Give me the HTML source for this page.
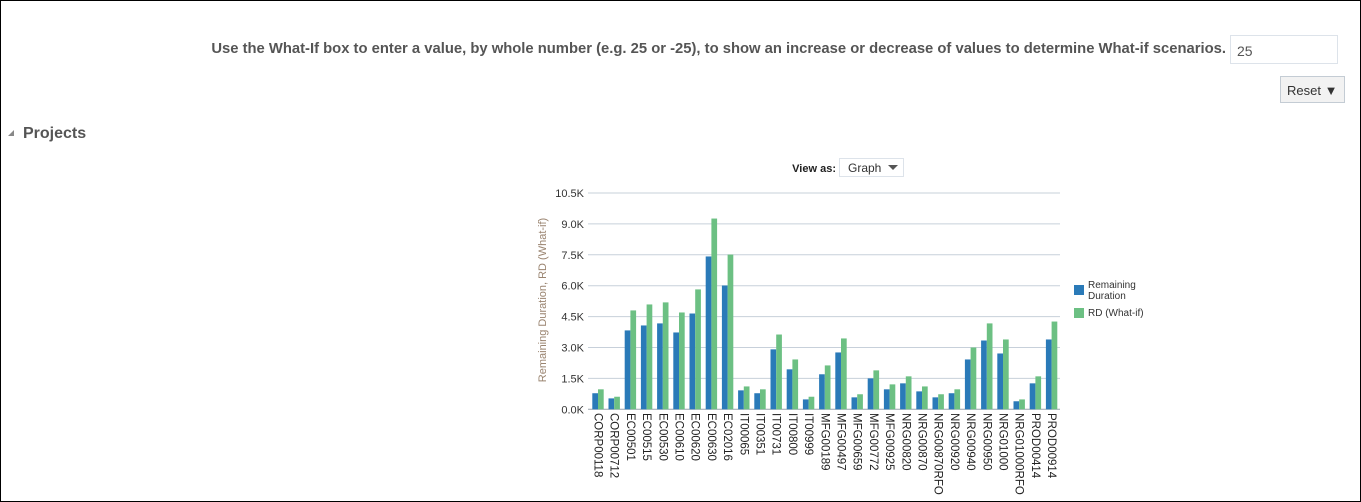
<!DOCTYPE html>
<html><head><meta charset="utf-8"><style>
html,body{margin:0;padding:0;background:#fff;}
body{width:1361px;height:502px;position:relative;overflow:hidden;font-family:"Liberation Sans",Arial,sans-serif;}
.frame{position:absolute;left:0;top:0;width:1359px;height:500px;border:1px solid #000;}
.instr{position:absolute;right:135px;top:41px;font-size:14.8px;font-weight:bold;color:#555;white-space:nowrap;}
.inp{position:absolute;left:1230px;top:35px;width:108px;height:29px;border:1px solid #dde3ea;box-sizing:border-box;font-size:14px;color:#555;padding:7px 6px;}
.reset{position:absolute;left:1280px;top:76px;width:65px;height:27px;border:1px solid #c4ccd4;background:#f2f2f2;box-sizing:border-box;font-size:13px;color:#333;padding:6px 6px;}
.proj{position:absolute;left:23px;top:125px;font-size:16px;font-weight:bold;color:#555;}
.tri{position:absolute;left:8px;top:130px;width:0;height:0;border-left:6px solid transparent;border-bottom:6px solid #888;}
</style></head><body>
<div class="frame"></div>
<div class="instr">Use the What-If box to enter a value, by whole number (e.g. 25 or -25), to show an increase or decrease of values to determine What-if scenarios.</div>
<div class="inp">25</div>
<div class="reset">Reset ▼</div>
<div class="tri"></div>
<div class="proj">Projects</div>
<svg width="1361" height="502" style="position:absolute;left:0;top:0" id="c"></svg>
<script>
var d=[["CORP00118",0.78,0.97],["CORP00712",0.53,0.61],["EC00501",3.83,4.8],["EC00515",4.07,5.09],["EC00530",4.17,5.19],["EC00610",3.73,4.7],["EC00620",4.65,5.82],["EC00630",7.42,9.26],["EC02016",6.01,7.51],["IT00065",0.92,1.11],["IT00351",0.78,0.97],["IT00731",2.91,3.63],["IT00800",1.94,2.42],["IT00999",0.48,0.61],["MFG00189",1.7,2.13],["MFG00497",2.76,3.44],["MFG00659",0.58,0.73],["MFG00772",1.5,1.89],["MFG00925",0.97,1.21],["NRG00820",1.26,1.6],["NRG00870",0.87,1.11],["NRG00870RFO",0.58,0.73],["NRG00920",0.78,0.97],["NRG00940",2.42,3.0],["NRG00950",3.34,4.17],["NRG01000",2.71,3.39],["NRG01000RFO",0.39,0.48],["PROD00414",1.26,1.6],["PROD00914",3.39,4.26]];
var s='',y0=409.3,k=(409.3-193)/10.5;
var t=['0.0K','1.5K','3.0K','4.5K','6.0K','7.5K','9.0K','10.5K'];
for(var i=0;i<8;i++){var y=y0-i*1.5*k;s+='<line x1="588" x2="1060" y1="'+y+'" y2="'+y+'" stroke="'+(i?'#c7d0da':'#9aa4ae')+'" stroke-width="1"/>';s+='<text x="584" y="'+(y+4)+'" text-anchor="end" font-size="11" fill="#333">'+t[i]+'</text>';}
d.forEach(function(r,i){var x=592.3+i*16.2;var h1=r[1]*k,h2=r[2]*k;
s+='<rect x="'+x+'" y="'+(y0-h1)+'" width="5.7" height="'+h1+'" fill="#2a7ab8"/>';
s+='<rect x="'+(x+5.7)+'" y="'+(y0-h2)+'" width="5.7" height="'+h2+'" fill="#6cc083"/>';
var cx=x+2.2;s+='<text transform="translate('+cx+',413) rotate(90)" font-size="11.5" fill="#222">'+r[0]+'</text>';});
s+='<text transform="translate(546,300) rotate(-90)" text-anchor="middle" font-size="11" fill="#9a8470">Remaining Duration, RD (What-if)</text>';
s+='<text x="836" y="172" text-anchor="end" font-size="11" font-weight="bold" fill="#222">View as:</text>';
s+='<rect x="839.5" y="158.5" width="64" height="18" fill="#fff" stroke="#dde3ea"/><text x="848" y="172" font-size="12" fill="#333">Graph</text><path d="M888 165 L898 165 L893 170 Z" fill="#555"/>';
s+='<rect x="1074" y="285" width="10" height="10" fill="#2a7ab8"/><text x="1088" y="288" font-size="10" fill="#333">Remaining</text><text x="1088" y="299" font-size="10" fill="#333">Duration</text>';
s+='<rect x="1074" y="308" width="10" height="10" fill="#6cc083"/><text x="1088" y="316" font-size="10" fill="#333">RD (What-if)</text>';
document.getElementById('c').innerHTML=s;
</script>
</body></html>
